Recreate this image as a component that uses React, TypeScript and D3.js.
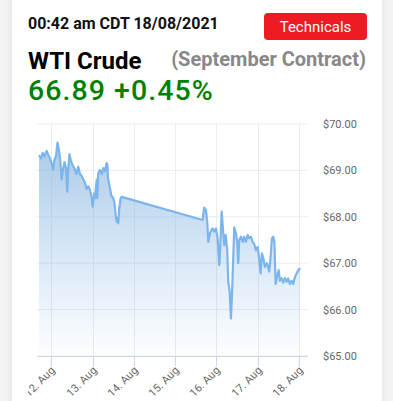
import React from "react";
import * as d3 from "d3";

const times: string[] = [
  "2021-08-11T16:51","2021-08-11T18:01","2021-08-11T19:00","2021-08-11T20:03","2021-08-11T21:20","2021-08-11T22:16","2021-08-11T23:14",
  "2021-08-12T00:14","2021-08-12T01:10","2021-08-12T01:52","2021-08-12T02:44","2021-08-12T03:36","2021-08-12T04:28","2021-08-12T05:14",
  "2021-08-12T06:02","2021-08-12T06:41","2021-08-12T07:40","2021-08-12T08:32","2021-08-12T09:18","2021-08-12T09:53","2021-08-12T10:35",
  "2021-08-12T11:27","2021-08-12T12:37","2021-08-12T13:46","2021-08-12T14:38","2021-08-12T15:41","2021-08-12T16:41","2021-08-12T17:40",
  "2021-08-12T18:43","2021-08-12T19:35","2021-08-12T20:34","2021-08-12T21:30","2021-08-12T22:29","2021-08-12T23:28",
  "2021-08-13T00:04","2021-08-13T00:49","2021-08-13T01:23","2021-08-13T02:23","2021-08-13T02:44","2021-08-13T03:19","2021-08-13T04:18",
  "2021-08-13T05:17","2021-08-13T06:13","2021-08-13T07:12","2021-08-13T08:11","2021-08-13T08:40","2021-08-13T08:57","2021-08-13T10:07",
  "2021-08-13T10:59","2021-08-13T12:02","2021-08-13T12:43","2021-08-13T13:25","2021-08-13T14:00","2021-08-13T14:28","2021-08-13T14:56",
  "2021-08-13T15:31","2021-08-13T16:20","2021-08-13T16:55",
  "2021-08-15T15:58","2021-08-15T16:50","2021-08-15T17:53","2021-08-15T18:39","2021-08-15T19:14","2021-08-15T20:13","2021-08-15T21:33",
  "2021-08-15T22:43","2021-08-15T23:42",
  "2021-08-16T00:41","2021-08-16T01:37","2021-08-16T02:02","2021-08-16T03:01","2021-08-16T03:46","2021-08-16T04:31","2021-08-16T05:20",
  "2021-08-16T06:16","2021-08-16T06:51","2021-08-16T07:40","2021-08-16T08:25","2021-08-16T09:00","2021-08-16T09:24","2021-08-16T10:20",
  "2021-08-16T11:19","2021-08-16T12:05","2021-08-16T12:40","2021-08-16T13:14","2021-08-16T14:14","2021-08-16T15:13","2021-08-16T16:08",
  "2021-08-16T17:08","2021-08-16T18:07","2021-08-16T19:03","2021-08-16T20:02","2021-08-16T21:01","2021-08-16T21:57","2021-08-16T22:56",
  "2021-08-16T23:56",
  "2021-08-17T00:52","2021-08-17T01:40","2021-08-17T02:26","2021-08-17T03:18","2021-08-17T04:10","2021-08-17T05:20","2021-08-17T06:40",
  "2021-08-17T07:28","2021-08-17T08:14","2021-08-17T08:59","2021-08-17T09:41","2021-08-17T10:23","2021-08-17T11:09","2021-08-17T12:08",
  "2021-08-17T12:53","2021-08-17T13:53","2021-08-17T14:49","2021-08-17T15:48","2021-08-17T16:47","2021-08-17T17:43","2021-08-17T18:42",
  "2021-08-17T19:41","2021-08-17T20:37","2021-08-17T21:36","2021-08-17T22:35","2021-08-17T23:31",
  "2021-08-18T00:42",
];

const prices: number[] = [
  69.33,69.26,69.38,69.30,69.42,69.33,69.26,
  69.15,69.02,69.24,69.30,69.60,69.44,69.20,
  68.80,69.00,69.18,69.05,68.54,69.05,69.35,
  69.20,69.10,69.02,68.92,69.08,68.92,68.88,
  68.80,68.74,68.60,68.66,68.58,68.40,
  68.22,68.50,68.40,68.80,68.40,68.94,69.01,
  68.92,69.05,68.98,69.16,69.12,68.83,68.61,
  68.45,68.40,68.30,68.04,67.89,67.97,67.86,
  68.18,68.40,68.43,
  67.93,68.20,68.15,67.89,67.46,67.64,67.75,
  67.68,67.75,
  67.54,66.96,67.21,68.11,67.75,67.39,67.61,
  67.28,66.60,66.39,65.81,66.31,66.74,67.77,
  67.64,67.45,67.00,67.50,67.57,67.46,67.57,
  67.46,67.61,67.54,67.57,67.46,67.42,67.28,
  67.35,
  67.10,66.78,67.21,67.10,66.92,67.00,66.82,
  67.14,67.54,67.57,67.45,66.55,66.70,66.85,
  66.62,66.68,66.58,66.68,66.60,66.67,66.55,
  66.62,66.55,66.70,66.78,66.85,
  66.89,
];

const yTicks: number[] = [65, 66, 67, 68, 69, 70];
const xTickDays: string[] = ["2021-08-12","2021-08-13","2021-08-14","2021-08-15","2021-08-16","2021-08-17","2021-08-18"];
const xDomain: string[] = ["2021-08-11T15:42", "2021-08-18T05:12"];

const headerTime = "00:42 am CDT 18/08/2021";
const title = "WTI Crude";
const subtitle = "(September Contract)";
const priceLabel = "66.89 +0.45%";
const buttonLabel = "Technicals";

export default function App() {
  const W = 393, H = 401;
  const parse = d3.timeParse("%Y-%m-%dT%H:%M");
  const parseDay = d3.timeParse("%Y-%m-%d");
  const data = times.map((t, i) => ({ t: parse(t) as Date, p: prices[i] }));

  const left = 37, right = 308, top = 124, bottom = 356;
  const x = d3.scaleTime().domain(xDomain.map((s) => parse(s) as Date)).range([left, right]);
  const y = d3.scaleLinear().domain([65, 70]).range([bottom, top]);

  const line = d3.line<{ t: Date; p: number }>().x((d) => x(d.t)).y((d) => y(d.p));
  const area = d3.area<{ t: Date; p: number }>().x((d) => x(d.t)).y0(bottom).y1((d) => y(d.p));
  const fmtDay = d3.timeFormat("%d. %b");
  const font = "Roboto, 'Noto Sans', sans-serif";

  return (
    <div style={{ position: "fixed", left: 0, top: 0, width: W, height: H }}>
      <svg width={W} height={H} style={{ display: "block" }}>
        <defs>
          <linearGradient id="areaGrad" x1="0" y1={top} x2="0" y2={bottom} gradientUnits="userSpaceOnUse">
            <stop offset="0" stopColor="rgb(105,160,212)" stopOpacity={0.62} />
            <stop offset="1" stopColor="rgb(124,181,236)" stopOpacity={0.02} />
          </linearGradient>
          <filter id="shadow" x="-10%" y="-10%" width="120%" height="120%">
            <feDropShadow dx="0" dy="0" stdDeviation="5" floodColor="#000" floodOpacity="0.08" />
          </filter>
          <clipPath id="chartClip">
            <rect x={28} y={0} width={340} height={H} />
          </clipPath>
        </defs>
        <rect x={0} y={0} width={W} height={H} fill="#f4f4f4" />
        <rect x={12} y={-20} width={370} height={H + 40} fill="#fff" filter="url(#shadow)" />

        <text x={28} y={29} fontFamily={font} fontWeight={700} fontSize={16} fill="#111">{headerTime}</text>
        <rect x={264} y={13} width={103} height={27} rx={4} fill="#ed1c24" />
        <text x={315.5} y={31.5} textAnchor="middle" fontFamily={font} fontSize={15} fill="#fff">{buttonLabel}</text>
        <text x={28} y={69} fontFamily={font} fontWeight={700} fontSize={24} fill="#000">{title}</text>
        <text x={366} y={66} textAnchor="end" fontFamily={font} fontWeight={700} fontSize={20} fill="#888">{subtitle}</text>
        <text x={28} y={99.5} fontFamily={font} fontWeight={500} fontSize={28.5} letterSpacing={1.05} fill="#008000">{priceLabel}</text>

        <g clipPath="url(#chartClip)">
          {yTicks.map((v) => (
            <line key={"h" + v} x1={left} x2={right} y1={y(v)} y2={y(v)} stroke="#ececec" strokeWidth={1} />
          ))}
          {xTickDays.map((d) => {
            const xx = Math.round(x(parseDay(d) as Date)) + 0.5;
            return <line key={"v" + d} x1={xx} x2={xx} y1={top} y2={bottom} stroke="#ececec" strokeWidth={1} />;
          })}
          <path d={area(data) || ""} fill="url(#areaGrad)" />
          <path d={line(data) || ""} fill="none" stroke="#7cb5ec" strokeWidth={2.2} strokeLinejoin="round" />
          <line x1={left} x2={right} y1={bottom + 0.5} y2={bottom + 0.5} stroke="#ccd6eb" strokeWidth={1} />
          {xTickDays.map((d) => {
            const dt = parseDay(d) as Date;
            const xx = Math.round(x(dt)) + 0.5;
            return (
              <g key={"t" + d}>
                <line x1={xx} x2={xx} y1={bottom} y2={bottom + 10} stroke="#ccd6eb" strokeWidth={1} />
                <text
                  transform={`translate(${xx + 4},${bottom + 15}) rotate(-45)`}
                  textAnchor="end"
                  fontFamily={font}
                  fontSize={11}
                  fill="#666"
                >
                  {fmtDay(dt)}
                </text>
              </g>
            );
          })}
        </g>
        {yTicks.map((v) => (
          <text key={"yl" + v} x={323} y={y(v) + 4} fontFamily={font} fontSize={11} fill="#666">
            {"$" + v.toFixed(2)}
          </text>
        ))}
      </svg>
    </div>
  );
}
